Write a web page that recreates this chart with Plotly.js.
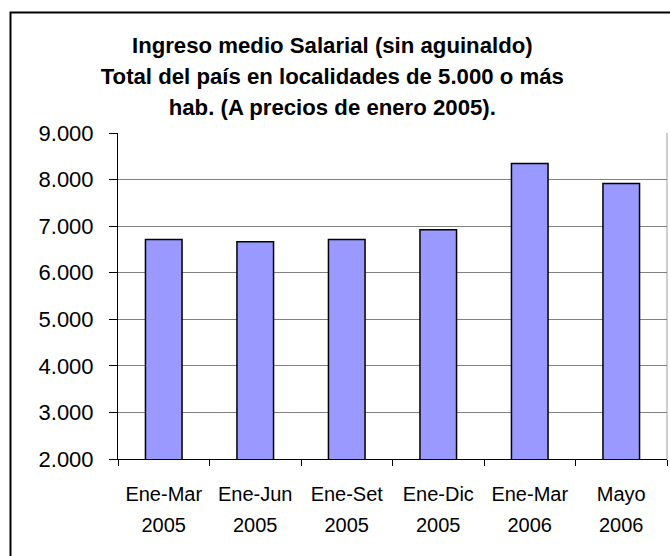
<!DOCTYPE html>
<html>
<head>
<meta charset="utf-8">
<script src="https://cdn.plot.ly/plotly-3.0.1.min.js"></script>
<style>html,body{margin:0;padding:0;background:#fff;}</style>
</head>
<body>
<div id="chart" style="width:670px;height:556px;"></div>
<script>
var periods = ['Ene-Mar', 'Ene-Jun', 'Ene-Set', 'Ene-Dic', 'Ene-Mar', 'Mayo'];
var years = ['2005', '2005', '2005', '2005', '2006', '2006'];
var ingreso = [6715, 6666, 6715, 6924, 8347, 7918];
var titleLines = ['Ingreso medio Salarial (sin aguinaldo)', 'Total del país en localidades de 5.000 o más', 'hab. (A precios de enero 2005).'];

function sz(t, s) { return '<span style="font-size:' + s + 'px">' + t + '</span>'; }
var cats = periods.map(function (p, i) { return sz(p, 20) + '<br>' + sz(years[i], 20); });

var L = 118, R = 3, T = 133, B = 97;
var W = 670 - L - R, H = 556 - T - B;
function px(x) { return (x - L) / W; }
function py(y) { return (556 - B - y) / H; }

var trace = {
  type: 'bar',
  x: cats,
  y: ingreso,
  marker: { color: '#9999FF', line: { color: '#000000', width: 1.5 } },
  hoverinfo: 'none'
};

var layout = {
  width: 670, height: 556,
  margin: { l: L, r: R, t: T, b: B },
  paper_bgcolor: '#ffffff', plot_bgcolor: '#ffffff',
  separators: ',.',
  showlegend: false,
  bargap: 0.6,
  font: { family: 'Liberation Sans, Arial, sans-serif', color: '#000000' },
  title: {
    text: titleLines.map(function (t) { return sz(t, 22.2); }).join('<br>'),
    font: { size: 24, weight: 'bold', family: 'Liberation Sans, Arial, sans-serif', color: '#000' },
    x: 0.496, xref: 'container', xanchor: 'center',
    y: 1 - 53 / 556, yref: 'container', yanchor: 'middle'
  },
  xaxis: {
    type: 'category',
    showline: true, linecolor: '#000000', linewidth: 1,
    ticks: 'outside', ticklen: 6, tickcolor: '#000000', tickwidth: 1,
    tickson: 'boundaries',
    tickfont: { size: 24, color: '#000' },
    ticklabelstandoff: 12,
    showgrid: false, zeroline: false
  },
  yaxis: {
    range: [2000, 9000], dtick: 1000, tick0: 2000,
    tickformat: ',d',
    showline: true, linecolor: '#000000', linewidth: 1,
    ticks: 'outside', ticklen: 8, tickcolor: '#000000', tickwidth: 1,
    tickfont: { size: 22, color: '#000' },
    showgrid: true, gridcolor: '#808080', gridwidth: 1,
    zeroline: false,
    ticklabelstandoff: 11
  },
  shapes: [
    { type: 'line', xref: 'paper', yref: 'paper', x0: 1, x1: 1, y0: 0, y1: 1,
      line: { color: '#a0a0a0', width: 1 }, layer: 'below' },
    { type: 'rect', xref: 'paper', yref: 'paper',
      x0: px(10.5), x1: px(690), y0: py(12.5), y1: py(580),
      line: { color: '#000000', width: 2 }, fillcolor: 'rgba(0,0,0,0)', layer: 'above' }
  ]
};

Plotly.newPlot('chart', [trace], layout, { staticPlot: true, displayModeBar: false });
</script>
</body>
</html>
